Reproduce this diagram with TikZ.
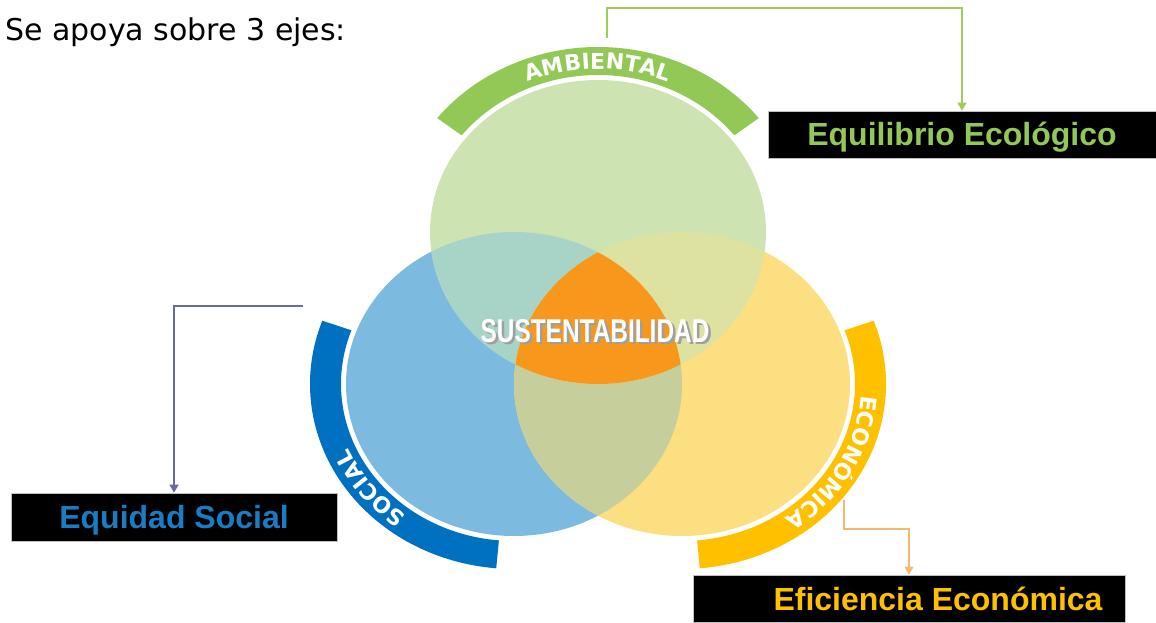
\documentclass[tikz,border=0pt]{standalone}
\usepackage{fontspec}
\setmainfont{DejaVu Sans}
\newfontfamily\labelfont{Liberation Sans}
\usetikzlibrary{arrows.meta,decorations.text,calc}

\definecolor{ambband}{RGB}{146,200,86}
\definecolor{socband}{RGB}{0,112,192}
\definecolor{ecoband}{RGB}{255,192,0}
\definecolor{ambfill}{RGB}{205,228,178}
\definecolor{socfill}{RGB}{125,186,223}
\definecolor{ecofill}{RGB}{251,223,128}
\definecolor{ambsoc}{RGB}{168,212,200}
\definecolor{ambeco}{RGB}{222,226,160}
\definecolor{soceco}{RGB}{198,206,156}
\definecolor{corefill}{RGB}{247,152,29}
\definecolor{ambline}{RGB}{160,205,90}
\definecolor{socline}{RGB}{105,105,165}
\definecolor{ecoline}{RGB}{245,185,110}
\definecolor{soctext}{RGB}{25,125,197}

\newcommand{\bandfont}{\bfseries\fontsize{22}{22}\selectfont\color{white}}

\begin{document}
\begin{tikzpicture}[x=1pt,y=1pt,
    labelbox/.style={fill=black, draw=gray!50, line width=0.6pt, inner sep=0pt,
      text height=23pt, text depth=0pt,
      font=\labelfont\bfseries\fontsize{32}{32}\selectfont},
    arrowlink/.style={line width=1.3pt, -{Triangle[width=9pt,length=8pt]}},
    bandtext/.style={decorate, decoration={text along path, text align=center, text={|\bandfont|#1}}}]
  \useasboundingbox (0,0) rectangle (1156,622);

  % circle centres
  \coordinate (amb) at (598,390);
  \coordinate (soc) at (514,238);
  \coordinate (eco) at (682,238);

  % Outer bands
  \fill[ambband] ($(amb)+(38:204 and 185)$) arc[start angle=38, end angle=142, x radius=204, y radius=185]
    -- ($(amb)+(142:173 and 157)$) arc[start angle=142, end angle=38, x radius=173, y radius=157] -- cycle;
  \fill[socband] ($(soc)+(160:204 and 185)$) arc[start angle=160, end angle=265, x radius=204, y radius=185]
    -- ($(soc)+(265:173 and 157)$) arc[start angle=265, end angle=160, x radius=173, y radius=157] -- cycle;
  \fill[ecoband] ($(eco)+(-85:204 and 185)$) arc[start angle=-85, end angle=20, x radius=204, y radius=185]
    -- ($(eco)+(20:173 and 157)$) arc[start angle=20, end angle=-85, x radius=173, y radius=157] -- cycle;

  \path[bandtext=AMBIENTAL] ($(amb)+(140:180 and 163)$) arc[start angle=140, end angle=40, x radius=180, y radius=163];
  \path[bandtext=SOCIAL] ($(soc)+(255:180 and 163)$) arc[start angle=255, end angle=180, x radius=180, y radius=163];
  \path[bandtext=ECONÓMICA] ($(eco)+(10:180 and 163)$) arc[start angle=10, end angle=-68, x radius=180, y radius=163];

  % Circles and overlaps
  \fill[socfill] (soc) ellipse[x radius=168, y radius=152];
  \fill[ecofill] (eco) ellipse[x radius=168, y radius=152];
  \fill[ambfill] (amb) ellipse[x radius=168, y radius=152];
  \begin{scope}
    \clip (soc) ellipse[x radius=168, y radius=152];
    \fill[soceco] (eco) ellipse[x radius=168, y radius=152];
  \end{scope}
  \begin{scope}
    \clip (amb) ellipse[x radius=168, y radius=152];
    \fill[ambsoc] (soc) ellipse[x radius=168, y radius=152];
  \end{scope}
  \begin{scope}
    \clip (amb) ellipse[x radius=168, y radius=152];
    \fill[ambeco] (eco) ellipse[x radius=168, y radius=152];
  \end{scope}
  \begin{scope}
    \clip (amb) ellipse[x radius=168, y radius=152];
    \clip (soc) ellipse[x radius=168, y radius=152];
    \fill[corefill] (eco) ellipse[x radius=168, y radius=152];
  \end{scope}

  \node[text=gray!75] (coreshadow) at (597.5,288.5)
    {\labelfont\bfseries\fontsize{33}{33}\selectfont\scalebox{0.74}[1]{SUSTENTABILIDAD}};
  \node[text=white] (core) at (595,291)
    {\labelfont\bfseries\fontsize{33}{33}\selectfont\scalebox{0.74}[1]{SUSTENTABILIDAD}};

  \node[anchor=base west, inner sep=0pt] (title) at (5,581)
    {\fontsize{30}{30}\selectfont Se apoya sobre 3 ejes:};

  % Boxes
  \node[labelbox, text=ambband, minimum width=388pt, minimum height=47pt] (ambBox) at (962,487.5) {Equilibrio Ecológico};
  \node[labelbox, text=soctext, minimum width=326pt, minimum height=48pt] (socBox) at (174,105) {Equidad Social};
  \node[labelbox, text=ecoband, minimum width=432pt, minimum height=47pt] (ecoBox) at (909,23.5) {\hspace*{58pt}Eficiencia Económica};

  % Connectors
  \coordinate (ambStart) at (607,584);
  \coordinate (socStart) at (303,316);
  \coordinate (ecoStart) at (844,122);
  \draw[arrowlink, ambline] (ambStart) -- ++(0,30) -| (ambBox.north);
  \draw[arrowlink, socline] (socStart) -| (socBox.north);
  \draw[arrowlink, ecoline] (ecoStart) -- ++(0,-29) -| (ecoBox.north);
\end{tikzpicture}
\end{document}
